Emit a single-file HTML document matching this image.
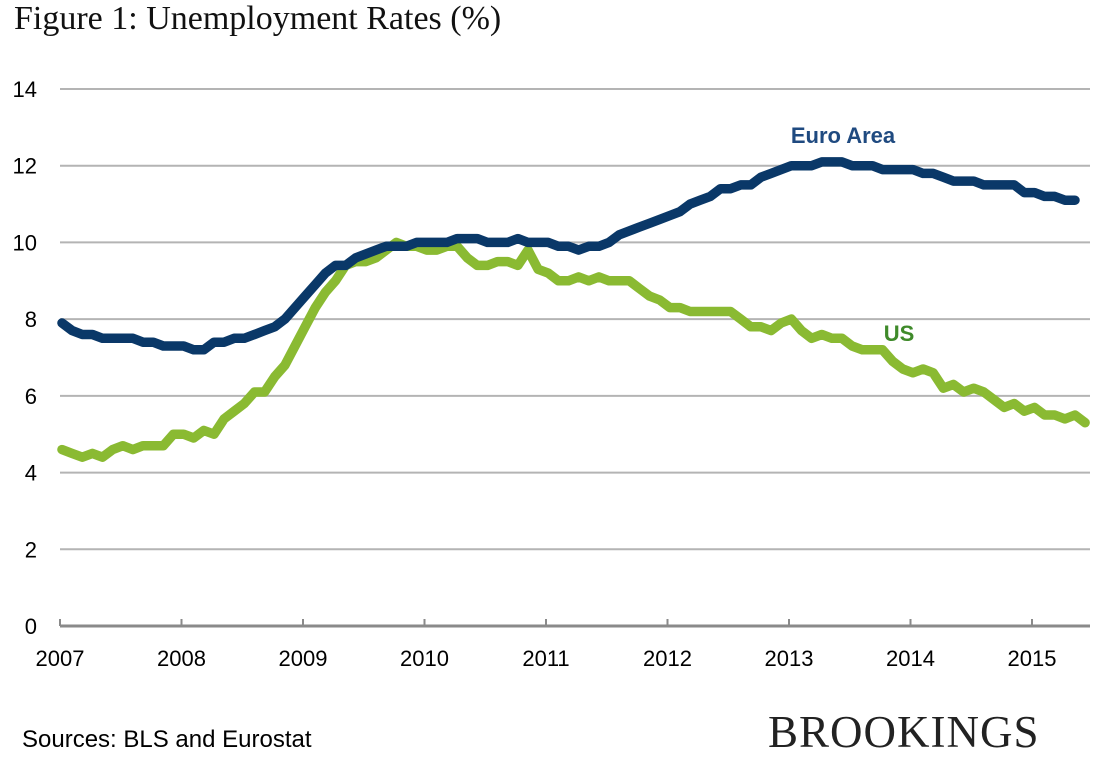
<!DOCTYPE html>
<html><head><meta charset="utf-8"><style>
body{margin:0;background:#fff;width:1105px;height:757px;overflow:hidden;position:relative;font-family:"Liberation Sans",sans-serif}
#title{position:absolute;left:14px;top:0px;font-family:"Liberation Serif",serif;font-size:34px;color:#111}
#src{position:absolute;left:22px;top:726px;font-size:24px;color:#000}
#brk{position:absolute;left:768px;top:706px;font-family:"Liberation Serif",serif;font-size:45px;letter-spacing:1px;color:#222}
svg{position:absolute;left:0;top:0}
</style></head><body>
<div id="title">Figure 1: Unemployment Rates (%)</div>
<svg id="chart" width="1105" height="757"></svg>
<div id="src">Sources: BLS and Eurostat</div>
<div id="brk">BROOKINGS</div>
<script>
const years=["2007","2008","2009","2010","2011","2012","2013","2014","2015"];
const yTicks=[0,2,4,6,8,10,12,14];
const usRate=[4.6,4.5,4.4,4.5,4.4,4.6,4.7,4.6,4.7,4.7,4.7,5.0,
5.0,4.9,5.1,5.0,5.4,5.6,5.8,6.1,6.1,6.5,6.8,7.3,
7.8,8.3,8.7,9.0,9.4,9.5,9.5,9.6,9.8,10.0,9.9,9.9,
9.8,9.8,9.9,9.9,9.6,9.4,9.4,9.5,9.5,9.4,9.8,9.3,
9.2,9.0,9.0,9.1,9.0,9.1,9.0,9.0,9.0,8.8,8.6,8.5,
8.3,8.3,8.2,8.2,8.2,8.2,8.2,8.0,7.8,7.8,7.7,7.9,
8.0,7.7,7.5,7.6,7.5,7.5,7.3,7.2,7.2,7.2,6.9,6.7,
6.6,6.7,6.6,6.2,6.3,6.1,6.2,6.1,5.9,5.7,5.8,5.6,
5.7,5.5,5.5,5.4,5.5,5.3];
const euroRate=[7.9,7.7,7.6,7.6,7.5,7.5,7.5,7.5,7.4,7.4,7.3,7.3,
7.3,7.2,7.2,7.4,7.4,7.5,7.5,7.6,7.7,7.8,8.0,8.3,
8.6,8.9,9.2,9.4,9.4,9.6,9.7,9.8,9.9,9.9,9.9,10.0,
10.0,10.0,10.0,10.1,10.1,10.1,10.0,10.0,10.0,10.1,10.0,10.0,
10.0,9.9,9.9,9.8,9.9,9.9,10.0,10.2,10.3,10.4,10.5,10.6,
10.7,10.8,11.0,11.1,11.2,11.4,11.4,11.5,11.5,11.7,11.8,11.9,
12.0,12.0,12.0,12.1,12.1,12.1,12.0,12.0,12.0,11.9,11.9,11.9,
11.9,11.8,11.8,11.7,11.6,11.6,11.6,11.5,11.5,11.5,11.5,11.3,
11.3,11.2,11.2,11.1,11.1];
const NS="http://www.w3.org/2000/svg",svg=document.getElementById('chart');
const X0=60,X1=1090,Y0=626,Y14=89,MONTH=10.13;
const yS=v=>Y0-(v/14)*(Y0-Y14);
const xM=i=>62+i*MONTH;
const xYear=k=>X0+k*121.5;
function mk(t,a){const e=document.createElementNS(NS,t);for(const k in a)e.setAttribute(k,a[k]);svg.appendChild(e);return e;}
yTicks.forEach(v=>{
 const g=mk('line',{x1:X0,x2:X1,y1:yS(v),y2:yS(v),stroke:v===0?'#8a8a8a':'#b4b4b4','stroke-width':v===0?3:2});
 
 
 const t=mk('text',{x:37,y:yS(v)+8,'text-anchor':'end','font-size':22,fill:'#000','font-family':'Liberation Sans,sans-serif'});
 t.textContent=v;
 
 
});
years.forEach((y,k)=>{
 const tk=mk('line',{x1:xYear(k),x2:xYear(k),y1:Y0-7,y2:Y0,stroke:'#8a8a8a','stroke-width':2});
 
 
 const t=mk('text',{x:xYear(k),y:666,'text-anchor':'middle','font-size':22,fill:'#000','font-family':'Liberation Sans,sans-serif'});
 t.textContent=y;
 
 
});
function line(data,color,name){
 const d=data.map((v,i)=>(i?'L':'M')+xM(i).toFixed(1)+','+yS(v).toFixed(1)).join('');
 const p=mk('path',{d:d,fill:'none',stroke:color,'stroke-width':9.5,'stroke-linejoin':'round','stroke-linecap':'round'});
 
 
}
line(usRate,'#8aba32','us-line');
line(euroRate,'#0a3868','euro-area-line');
const l1=mk('text',{x:843,y:143,'text-anchor':'middle','font-size':22,'font-weight':'bold',fill:'#1f4a80','font-family':'Liberation Sans,sans-serif'});
l1.textContent='Euro Area';


const l2=mk('text',{x:899,y:341,'text-anchor':'middle','font-size':22,'font-weight':'bold',fill:'#3f8a2a','font-family':'Liberation Sans,sans-serif'});
l2.textContent='US';


</script>
</body></html>
